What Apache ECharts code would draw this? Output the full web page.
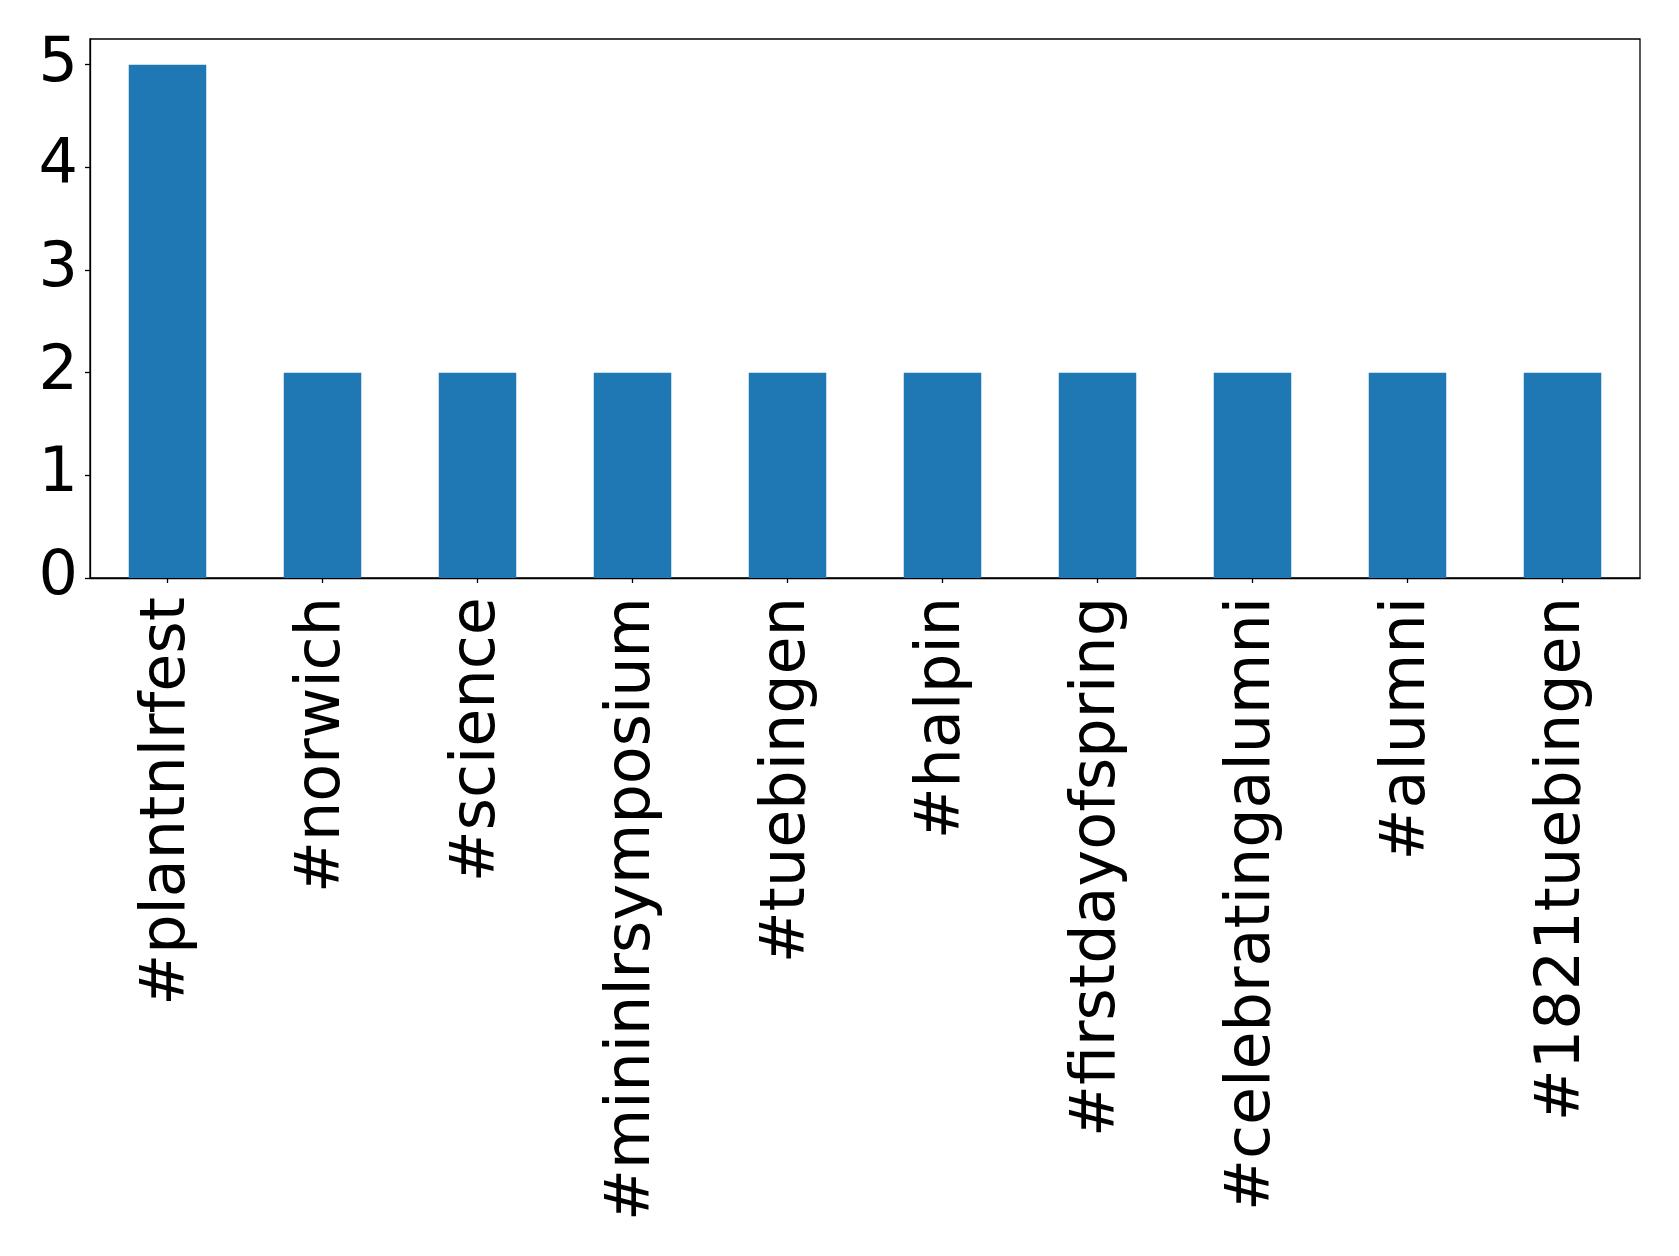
<!DOCTYPE html>
<html>
<head>
<meta charset="utf-8">
<script src="https://cdn.jsdelivr.net/npm/echarts@6/dist/echarts.min.js"></script>
<style>
html,body{margin:0;padding:0;background:#fff;}
#chart{width:1679px;height:1256px;}
</style>
</head>
<body>
<div id="chart"></div>
<script>
const categories = ['#plantnlrfest','#norwich','#science','#mininlrsymposium','#tuebingen','#halpin','#firstdayofspring','#celebratingalumni','#alumni','#1821tuebingen'];
const counts = [5,2,2,2,2,2,2,2,2,2];
const yTicks = [0,1,2,3,4,5];

const chart = echarts.init(document.getElementById('chart'), null, {renderer:'canvas'});
chart.setOption({
  animation:false,
  backgroundColor:'#ffffff',
  grid:{left:90, right:39, top:39, bottom:678, show:true, borderColor:'#000', borderWidth:1.3, containLabel:false},
  xAxis:{
    type:'category',
    data:categories,
    boundaryGap:true,
    axisLine:{show:true, lineStyle:{color:'#000', width:1.3}},
    axisTick:{show:true, alignWithLabel:true, length:5, lineStyle:{color:'#000', width:1.3}},
    axisLabel:{rotate:90, interval:0, margin:19, padding:[10,0,0,0], fontFamily:'DejaVu Sans', fontSize:62, color:'#000'},
    splitLine:{show:false}
  },
  yAxis:{
    type:'value',
    min:0, max:5.25,
    axisLine:{show:true, lineStyle:{color:'#000', width:1.3}},
    axisTick:{show:true, length:5, customValues:yTicks, lineStyle:{color:'#000', width:1.3}},
    axisLabel:{margin:12, fontFamily:'DejaVu Sans', fontSize:62, color:'#000', customValues:yTicks},
    splitLine:{show:false}
  },
  series:[{
    type:'bar',
    data:counts,
    barWidth:'50%',
    itemStyle:{color:'#1f77b4'}
  }]
});
</script>
</body>
</html>
